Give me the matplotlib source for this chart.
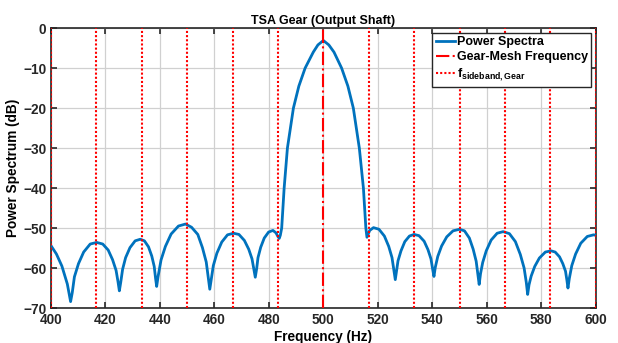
import numpy as np
import matplotlib.pyplot as plt

# spectrum (Hz, dB)
freq = [400, 402, 404, 406, 406.7, 407.2, 407.8, 408.6, 410.1, 412, 414.4, 416.8,
        419, 421, 422.6, 423.9, 424.6, 425.1, 425.6, 426.3, 427.4, 429, 430.9, 432.8,
        434.3, 435.8, 437, 437.9, 438.4, 438.8, 439.3, 440.4, 442, 444.1, 446.8, 449.4,
        451.6, 453.9, 455.6, 457, 457.8, 458.3, 458.9, 459.6, 460.9, 462.7, 464.8, 467,
        469, 471, 472.6, 473.8, 474.5, 475, 475.5, 476, 477, 478.3, 479.9, 481.5,
        482.6, 483.3, 483.8, 484.2, 484.7, 485.6, 486.8, 488, 489, 491, 493.3, 496.3,
        498, 500, 502, 503.9, 506.7, 509, 511, 512.1, 513.2, 514.7,
        515.6, 516, 516.4, 517, 518.4, 520.4, 522.4, 524, 525.2, 525.9, 526.4, 526.9, 527.4,
        528.5, 529.9, 531.6, 533.3, 535.1, 537, 538.4, 539.5, 540.1, 540.6, 541.1, 542,
        543.4, 545.3, 547.6, 550, 551.8, 553.6, 555, 556.1, 556.7, 557.2, 557.7, 558.5,
        559.8, 561.6, 563.8, 566, 568.3, 570.5, 572.3, 573.7, 574.5, 575, 575.5, 576.3,
        577.6, 579.3, 581.5, 583.6, 585.1, 586.7, 587.9, 588.9, 589.4, 589.8, 590.3, 591.2,
        592.6, 594.5, 596.9, 599.2, 600]
power_db = [-54.4, -56.5, -59.5, -64, -66.6, -68.4, -66.2, -62.2, -58.9, -56, -54, -53.6,
            -54, -55.5, -57.9, -60.6, -63.4, -65.7, -63.6, -60.3, -57.4, -54.9, -53.2, -52.8,
            -53.2, -54.7, -57, -59.6, -62.6, -64.6, -62.2, -58, -54.6, -51.5, -49.5, -49,
            -49.8, -51.6, -54.9, -58.5, -62.6, -65.3, -62.6, -59.4, -56.3, -53.5, -51.7, -51.3,
            -51.6, -53.1, -55.3, -57.7, -60.4, -62.3, -60.2, -57.4, -54.8, -52.5, -51, -50.6,
            -51.2, -52.1, -52.6, -51.8, -50, -40, -30, -24.5, -20, -14.5, -10, -6,
            -4.2, -3.1, -4.2, -6, -10, -14.5, -20, -25, -30, -40,
            -50, -52.3, -51.6, -50.6, -49.9, -50.3, -52, -54.6, -57.4, -60.6, -62.9, -60.6, -58.2,
            -55.7, -53.4, -52, -51.6, -51.9, -53.3, -55.4, -57.7, -60.2, -62.1, -59.8, -57.1,
            -54.5, -52.2, -50.7, -50.3, -50.7, -52.5, -55.3, -58.3, -61.4, -64.1, -61.4, -58.6,
            -55.7, -53, -51.3, -50.9, -51.4, -53.4, -56.6, -60, -63.6, -66.6, -64.2, -62,
            -59.6, -57.5, -56, -55.7, -56, -57.2, -58.9, -60.8, -63, -65, -62.6, -59.4,
            -56.5, -53.8, -52.1, -51.7, -51.8]

gear_mesh = 500
sidebands = [400, 416.67, 433.33, 450, 466.67, 483.33,
             516.67, 533.33, 550, 566.67, 583.33, 600]

plt.rcParams['font.family'] = ['Liberation Sans', 'DejaVu Sans']
plt.rcParams['font.weight'] = 'bold'
plt.rcParams['mathtext.fontset'] = 'custom'
plt.rcParams['mathtext.bf'] = 'Liberation Sans:bold'
plt.rcParams['mathtext.rm'] = 'Liberation Sans:bold'
plt.rcParams['mathtext.it'] = 'Liberation Sans:bold'

fig = plt.figure(figsize=(6.18, 3.43), dpi=100)
ax = fig.add_axes([0.0825, 0.102, 0.8815, 0.816])

ax.plot(freq, power_db, color='#0072BD', lw=2.0, label='Power Spectra', zorder=3,
        solid_joinstyle='round')
ax.axvline(gear_mesh, color='red', ls='-.', lw=1.5, label='Gear-Mesh Frequency', zorder=4)
for i, f in enumerate(sidebands):
    ax.axvline(f, color='red', ls=(0, (1, 1)), lw=1.5, zorder=4,
               label=r'$\mathbf{f_{sideband,Gear}}$' if i == 0 else None)

ax.set_xlim(400, 600)
ax.set_ylim(-70, 0)
ax.set_xticks(np.arange(400, 601, 20))
ax.set_yticks(np.arange(-70, 1, 10))
ax.grid(True, color='#d0d0d0', lw=0.9)
ax.set_axisbelow(True)
ax.tick_params(direction='in', top=True, right=True, length=4, width=1.2,
               labelsize=9.8, colors='#262626')
for s in ax.spines.values():
    s.set_linewidth(1.2)
    s.set_color('#262626')

ax.set_title('TSA Gear (Output Shaft)', fontsize=9, fontweight='bold', pad=3)
ax.set_xlabel('Frequency (Hz)', fontsize=9.8, fontweight='bold', labelpad=2)
ax.set_ylabel('Power Spectrum (dB)', fontsize=9.8, fontweight='bold', labelpad=2)

leg = ax.legend(loc='upper right', fontsize=9, handlelength=1.5, handletextpad=0.15,
                borderpad=0.3, labelspacing=0.25, fancybox=False, framealpha=1,
                borderaxespad=0.35)
leg.get_frame().set_edgecolor('#262626')
leg.get_frame().set_linewidth(1.0)

fig.savefig('out.png', dpi=100)
